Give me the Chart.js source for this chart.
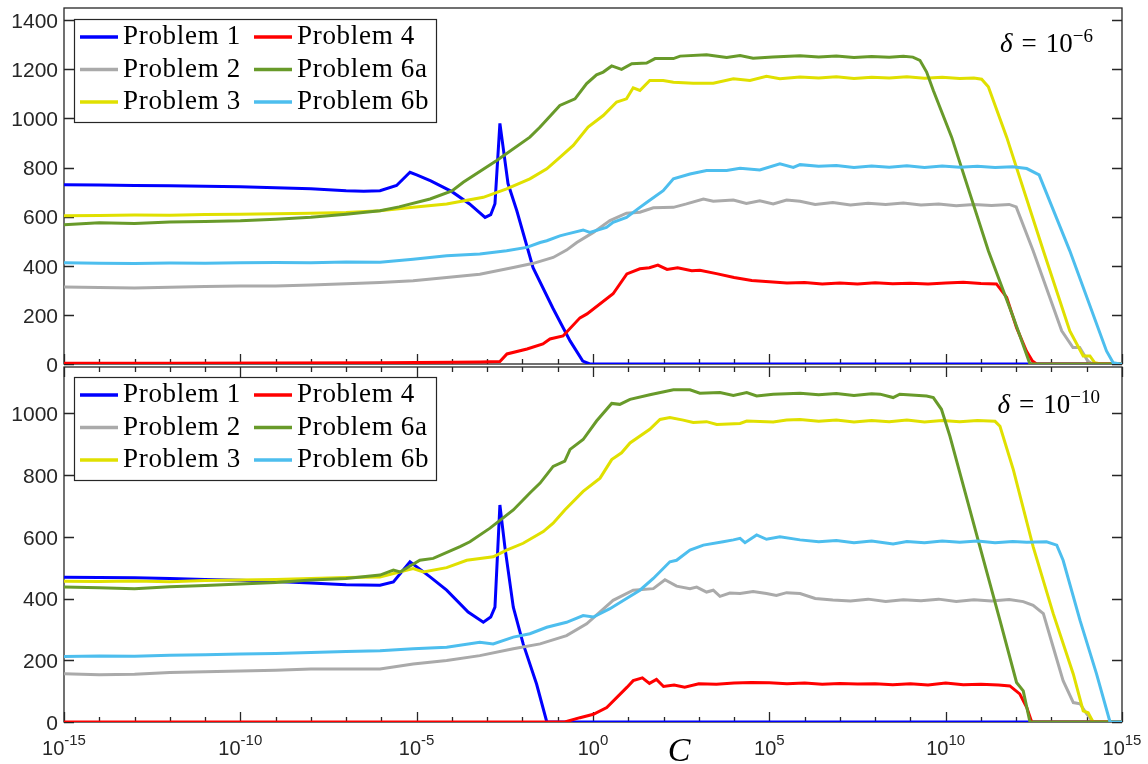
<!DOCTYPE html>
<html>
<head>
<meta charset="utf-8">
<script src="https://cdn.jsdelivr.net/npm/chart.js@4.4.1/dist/chart.umd.min.js"></script>
<style>
  body { margin: 0; background: #fff; }
  canvas { position: absolute; left: 0; top: 0; }
</style>
</head>
<body>
<canvas id="bottomChart" width="1148" height="764"></canvas>
<canvas id="topChart" width="1148" height="764"></canvas>
<script>
// series names and colours (draw order follows this list)
const seriesNames = ['Problem 1', 'Problem 2', 'Problem 3', 'Problem 4', 'Problem 6a', 'Problem 6b'];
const seriesColors = ['#0000ff', '#aaaaaa', '#e0e000', '#ff0000', '#689a2a', '#4dbeee'];

// x axis: log10(C) exponents for the labels, y tick values
const xLabelExps = [-15, -10, -5, 0, 5, 10, 15];
const topYTicks = [0, 200, 400, 600, 800, 1000, 1200, 1400];
const bottomYTicks = [0, 200, 400, 600, 800, 1000];

// delta = 1e-6 panel, points are [log10(C), value]
const topP1 = [[-15,730],[-14,729],[-13,727],[-12,726],[-11,724],[-10,722],[-9,718],[-8,714],[-7,706],[-6.5,704],[-6.04,706],[-5.57,727],[-5.19,781],[-5,770],[-4.6,746],[-4,702],[-3.5,652],[-3.06,597],[-2.9,608],[-2.78,653],[-2.64,980],[-2.41,735],[-2.16,624],[-1.7,392],[-1.14,228],[-0.65,94],[-0.29,12],[-0.09,0],[15,0]];
const topP2 = [[-15,314],[-14,312],[-13,310],[-12,313],[-11,316],[-10,318],[-9,318],[-8,322],[-7,327],[-6.04,332],[-5.1,339],[-4.15,352],[-3.21,366],[-2.26,393],[-1.69,410],[-1.13,434],[-0.75,464],[-0.46,495],[0.01,536],[0.48,584],[0.95,614],[1.33,618],[1.71,636],[2.28,638],[2.65,652],[3.13,672],[3.41,663],[3.98,668],[4.35,654],[4.73,665],[5.11,652],[5.49,668],[5.87,663],[6.3,650],[6.8,658],[7.3,648],[7.8,655],[8.3,650],[8.8,656],[9.3,648],[9.8,652],[10.3,645],[10.8,650],[11.3,646],[11.8,650],[12.0,640],[12.48,461],[13.29,135],[13.61,67],[13.8,67],[14.03,12],[14.17,0],[15,0]];
const topP3 = [[-15,604],[-14,605],[-13,607],[-12,606],[-11,609],[-10,610],[-9,612],[-8,614],[-7,617],[-6.04,624],[-5.1,638],[-4.15,652],[-3.11,679],[-2.45,713],[-1.79,754],[-1.31,795],[-0.94,842],[-0.56,890],[-0.14,965],[0.29,1012],[0.67,1067],[0.95,1080],[1.14,1125],[1.33,1114],[1.61,1155],[1.99,1155],[2.28,1148],[2.84,1144],[3.41,1144],[3.98,1162],[4.45,1155],[4.92,1172],[5.3,1162],[5.87,1169],[6.4,1165],[6.9,1170],[7.4,1163],[7.9,1168],[8.4,1165],[8.9,1170],[9.4,1164],[9.9,1168],[10.4,1163],[10.8,1165],[11.02,1160],[11.21,1129],[11.73,924],[12.77,461],[13.52,135],[13.9,33],[14.09,33],[14.23,5],[14.4,0],[15,0]];
const topP4 = [[-15,3],[-12,3],[-9,4],[-6,5],[-4,7],[-3.2,8],[-2.64,10],[-2.44,41],[-1.87,61],[-1.42,82],[-1.22,102],[-0.85,114],[-0.37,188],[-0.17,204],[0.57,286],[0.96,367],[1.33,388],[1.6,392],[1.84,403],[2.1,385],[2.4,392],[2.8,380],[3.03,382],[3.5,368],[4.0,352],[4.5,340],[5.0,335],[5.5,330],[6,332],[6.5,326],[7,330],[7.5,326],[8,331],[8.5,327],[9,329],[9.5,326],[10,330],[10.5,333],[11,328],[11.44,326],[11.73,271],[12.01,148],[12.29,53],[12.46,12],[12.58,0],[15,0]];
const topP6a = [[-15,567],[-14,575],[-13,572],[-12,578],[-11,580],[-10,583],[-9,590],[-8,598],[-7,610],[-6.04,624],[-5.5,640],[-4.62,672],[-4,705],[-3.68,740],[-2.73,829],[-1.79,924],[-1.5,965],[-0.94,1053],[-0.51,1080],[-0.18,1142],[0.1,1178],[0.29,1189],[0.53,1214],[0.81,1200],[1.1,1223],[1.52,1226],[1.76,1244],[2.28,1244],[2.47,1254],[3.22,1260],[3.79,1248],[4.17,1256],[4.54,1245],[5.1,1250],[5.87,1256],[6.4,1250],[6.9,1254],[7.4,1248],[7.9,1252],[8.4,1249],[8.8,1253],[9.07,1250],[9.27,1237],[9.46,1189],[9.65,1114],[10.17,924],[11.21,461],[11.92,189],[12.39,0],[15,0]];
const topP6b = [[-15,412],[-14,410],[-13,409],[-12,411],[-11,410],[-10,412],[-9,413],[-8,412],[-7,415],[-6.04,414],[-5.1,427],[-4.15,441],[-3.21,448],[-2.45,461],[-1.88,475],[-1.5,495],[-1.31,502],[-0.94,522],[-0.75,529],[-0.28,546],[-0.09,536],[0.38,556],[0.57,577],[0.95,597],[1.33,638],[1.52,658],[1.99,706],[2.28,754],[2.75,774],[3.22,788],[3.79,788],[4.17,797],[4.73,790],[5.3,815],[5.68,801],[5.87,812],[6.4,805],[6.9,808],[7.4,800],[7.9,806],[8.4,801],[8.9,807],[9.4,800],[9.9,806],[10.4,801],[10.9,805],[11.4,800],[11.9,803],[12.3,796],[12.65,770],[13.52,461],[14.56,53],[14.75,5],[14.95,0],[15,0]];

// delta = 1e-10 panel
const botP1 = [[-15,469],[-14,468],[-13,467],[-12,465],[-11,462],[-10,459],[-9,455],[-8,450],[-7,445],[-6.04,443],[-5.66,454],[-5.19,519],[-4.62,470],[-4.15,427],[-3.54,356],[-3.11,323],[-2.9,340],[-2.78,372],[-2.64,703],[-2.5,568],[-2.26,372],[-1.98,253],[-1.6,123],[-1.31,0],[15,0]];
const botP2 = [[-15,156],[-14,153],[-13,155],[-12,160],[-11,163],[-10,165],[-9,168],[-8,172],[-7,172],[-6.04,172],[-5.1,188],[-4.15,199],[-3.21,215],[-2.26,237],[-1.5,253],[-0.75,280],[-0.18,318],[0.57,394],[1.14,427],[1.71,432],[2.04,461],[2.37,440],[2.75,432],[2.94,437],[3.22,421],[3.41,427],[3.6,407],[3.88,418],[4.17,416],[4.54,423],[4.92,416],[5.2,410],[5.49,419],[5.87,416],[6.3,400],[6.8,395],[7.3,392],[7.8,398],[8.3,390],[8.8,396],[9.3,393],[9.8,398],[10.3,390],[10.8,396],[11.3,392],[11.8,397],[12.2,390],[12.48,378],[12.77,351],[13.05,242],[13.33,134],[13.62,63],[13.81,59],[14.0,26],[14.18,0],[15,0]];
const botP3 = [[-15,456],[-14,455],[-13,457],[-12,454],[-11,458],[-10,460],[-9,462],[-8,465],[-7,468],[-6.04,470],[-5.1,497],[-4.81,486],[-4.15,500],[-3.58,524],[-2.83,535],[-2.45,557],[-1.98,579],[-1.41,617],[-1.13,644],[-0.8,687],[-0.28,747],[0.2,790],[0.53,850],[0.81,872],[1.05,904],[1.61,948],[1.9,980],[2.18,986],[2.56,978],[2.84,970],[3.22,973],[3.51,964],[4.17,967],[4.36,975],[5.11,972],[5.49,978],[5.87,980],[6.4,974],[6.9,978],[7.4,972],[7.9,977],[8.4,973],[8.9,978],[9.4,972],[9.9,977],[10.4,973],[10.9,977],[11.4,974],[11.54,958],[11.92,817],[12.48,568],[13.05,351],[13.62,155],[13.9,36],[14.04,30],[14.18,0],[15,0]];
const botP4 = [[-15,0],[-0.8,0],[-0.37,14],[0.01,25],[0.39,47],[0.96,112],[1.14,134],[1.4,143],[1.6,125],[1.8,138],[2.0,115],[2.3,120],[2.6,113],[3.0,124],[3.5,122],[4,126],[4.5,128],[5,127],[5.5,124],[6,126],[6.5,122],[7,125],[7.5,123],[8,124],[8.5,121],[9,124],[9.5,120],[10,126],[10.5,121],[11,122],[11.5,120],[11.82,117],[12.1,91],[12.3,47],[12.44,0],[15,0]];
const botP6a = [[-15,437],[-14,435],[-13,432],[-12,438],[-11,442],[-10,447],[-9,452],[-8,460],[-7,465],[-6.04,476],[-5.66,492],[-5.47,486],[-4.91,524],[-4.53,530],[-3.77,568],[-3.49,584],[-2.92,628],[-2.26,687],[-1.79,742],[-1.5,774],[-1.13,828],[-0.8,845],[-0.65,883],[-0.28,915],[0.1,975],[0.53,1032],[0.76,1029],[1.05,1045],[1.61,1060],[2.28,1076],[2.75,1076],[3.03,1065],[3.6,1067],[3.98,1058],[4.36,1067],[4.64,1056],[5.11,1062],[5.87,1065],[6.4,1060],[6.9,1064],[7.4,1058],[7.9,1063],[8.14,1062],[8.51,1051],[8.7,1062],[9.46,1056],[9.65,1051],[9.88,1013],[10.12,926],[10.97,568],[11.54,329],[12.01,128],[12.2,101],[12.39,0],[15,0]];
const botP6b = [[-15,212],[-14,214],[-13,213],[-12,216],[-11,218],[-10,220],[-9,222],[-8,225],[-7,228],[-6.04,231],[-5.1,237],[-4.15,242],[-3.21,258],[-2.83,253],[-2.26,275],[-1.79,286],[-1.31,307],[-0.75,323],[-0.28,345],[0.01,340],[0.48,367],[0.95,400],[1.33,427],[1.71,465],[2.18,519],[2.37,524],[2.75,557],[3.13,573],[3.69,584],[3.98,590],[4.17,595],[4.31,581],[4.64,606],[4.92,592],[5.3,600],[5.87,590],[6.4,584],[6.9,588],[7.4,581],[7.9,586],[8.51,577],[8.9,585],[9.4,581],[9.9,586],[10.4,582],[10.9,586],[11.4,581],[11.9,585],[12.3,582],[12.86,584],[13.15,573],[13.33,524],[13.81,329],[14.28,155],[14.66,0],[15,0]];

const axisColor = '#262626';

function toPoints(series) {
    return series.map(p => ({ x: Math.pow(10, p[0]), y: p[1] }));
}

// draw a string like 10^-6 with the exponent raised
function drawPower(ctx, base, sup, x, y, baseFont, supFont, raise, align) {
    ctx.font = baseFont;
    const wb = ctx.measureText(base).width;
    ctx.font = supFont;
    const ws = ctx.measureText(sup).width;
    let start = x;
    if (align === 'center') start = x - (wb + ws) / 2;
    if (align === 'right') start = x - wb - ws;
    ctx.textAlign = 'left';
    ctx.font = baseFont;
    ctx.fillText(base, start, y);
    ctx.font = supFont;
    ctx.fillText(sup, start + wb, y - raise);
    return start;
}

function drawLegend(ctx, left, top) {
    const w = 362, h = 103;
    ctx.fillStyle = '#fff';
    ctx.fillRect(left, top, w, h);
    ctx.strokeStyle = axisColor;
    ctx.lineWidth = 1.2;
    ctx.strokeRect(left + 0.5, top + 0.5, w, h);
    ctx.font = '27px "Liberation Serif"';
    ctx.letterSpacing = '0.7px';
    ctx.textAlign = 'left';
    ctx.textBaseline = 'alphabetic';
    // two columns: Problems 1-3 left, 4, 6a, 6b right
    const layout = [[0, 0], [1, 0], [2, 0], [3, 1], [4, 1], [5, 1]];
    const rowY = [18, 50.5, 83];
    layout.forEach(([i, col], k) => {
        const y = top + rowY[k % 3];
        const x0 = left + (col === 0 ? 6 : 180);
        ctx.strokeStyle = seriesColors[i];
        ctx.lineWidth = 3.5;
        ctx.beginPath();
        ctx.moveTo(x0, y);
        ctx.lineTo(x0 + 38, y);
        ctx.stroke();
        ctx.fillStyle = '#000';
        ctx.fillText(seriesNames[i], x0 + 43, y + 7);
    });
    ctx.letterSpacing = '0px';
}

const framePlugin = {
    id: 'frame',
    beforeDatasetsDraw(chart, args, opts) {
        const { ctx, chartArea: a, scales: { x, y } } = chart;
        ctx.save();
        ctx.strokeStyle = axisColor;
        ctx.lineWidth = 1.3;
        ctx.beginPath();
        for (let e = -15; e <= 15; e++) {
            const px = Math.round(x.getPixelForValue(Math.pow(10, e))) + 0.5;
            const len = e % 5 === 0 ? 10 : 5;
            ctx.moveTo(px, a.bottom);
            ctx.lineTo(px, a.bottom - len);
            if (opts.topTicks) {
                ctx.moveTo(px, a.top);
                ctx.lineTo(px, a.top + len);
            }
        }
        opts.yTicks.forEach(v => {
            const py = Math.round(y.getPixelForValue(v)) + 0.5;
            ctx.moveTo(a.left, py);
            ctx.lineTo(a.left + 10, py);
            ctx.moveTo(a.right, py);
            ctx.lineTo(a.right - 10, py);
        });
        ctx.stroke();
        ctx.strokeRect(a.left, a.top, a.right - a.left, a.bottom - a.top);
        ctx.restore();
    },
    afterDraw(chart, args, opts) {
        const { ctx, scales: { x } } = chart;
        ctx.save();
        drawLegend(ctx, 74, opts.legendTop);

        // delta annotation
        ctx.fillStyle = '#000';
        ctx.textBaseline = 'alphabetic';
        const serif = '"Liberation Serif"';
        const s = drawPower(ctx, '10', '\u2212' + opts.deltaExp, opts.deltaRight, opts.deltaBase,
            '27px ' + serif, '19px ' + serif, 10, 'right');
        ctx.font = '27px ' + serif;
        ctx.textAlign = 'right';
        ctx.fillText('=', s - 9, opts.deltaBase);
        const we = ctx.measureText('=').width;
        ctx.font = 'italic 27px ' + serif;
        ctx.fillText('\u03b4', s - 9 - we - 9, opts.deltaBase);

        if (opts.xLabels) {
            ctx.fillStyle = axisColor;
            xLabelExps.forEach(e => {
                const px = x.getPixelForValue(Math.pow(10, e));
                drawPower(ctx, '10', String(e), px, 755,
                    '20px "Liberation Sans"', '15px "Liberation Sans"', 10, 'center');
            });
            ctx.fillStyle = '#000';
            ctx.font = 'italic 34px ' + serif;
            ctx.textAlign = 'center';
            ctx.fillText('C', 679, 761);
        }
        ctx.restore();
    }
};

function makeChart(canvasId, seriesList, yMax, yTicks, panel) {
    const ctx = document.getElementById(canvasId).getContext('2d');
    return new Chart(ctx, {
        type: 'line',
        data: {
            datasets: seriesList.map((s, i) => ({
                label: seriesNames[i],
                data: toPoints(s),
                borderColor: seriesColors[i],
                borderWidth: 3,
                pointRadius: 0,
                tension: 0,
                fill: false,
                order: seriesList.length - i // later series on top
            }))
        },
        options: {
            responsive: false,
            animation: false,
            events: [],
            layout: { padding: { left: 0, right: 26, top: panel.padTop, bottom: 0 } },
            scales: {
                x: {
                    type: 'logarithmic',
                    min: 1e-15,
                    max: 1e15,
                    grid: { display: false, drawTicks: false },
                    border: { display: false },
                    ticks: { display: false },
                    afterFit: s => { s.height = panel.xHeight; s.paddingLeft = 0; s.paddingRight = 0; }
                },
                y: {
                    min: 0,
                    max: yMax,
                    grid: { display: false, drawTicks: false },
                    border: { display: false },
                    afterBuildTicks: s => { s.ticks = yTicks.map(v => ({ value: v })); },
                    ticks: {
                        color: axisColor,
                        padding: 6,
                        labelOffset: 2,
                        font: { family: 'Liberation Sans', size: 21 },
                        callback: v => String(v)
                    },
                    afterFit: s => { s.width = 64; s.paddingTop = 0; s.paddingBottom = 0; }
                }
            },
            plugins: {
                legend: { display: false },
                tooltip: { enabled: false },
                frame: {
                    yTicks: yTicks,
                    topTicks: panel.topTicks,
                    legendTop: panel.legendTop,
                    deltaExp: panel.deltaExp,
                    deltaRight: panel.deltaRight,
                    deltaBase: panel.deltaBase,
                    xLabels: panel.xLabels
                }
            }
        },
        plugins: [framePlugin]
    });
}

makeChart('bottomChart', [botP1, botP2, botP3, botP4, botP6a, botP6b], 1150, bottomYTicks, {
    padTop: 367, xHeight: 42, topTicks: true, legendTop: 377,
    deltaExp: '10', deltaRight: 1100, deltaBase: 413, xLabels: true
});

makeChart('topChart', [topP1, topP2, topP3, topP4, topP6a, topP6b], 1450, topYTicks, {
    padTop: 8, xHeight: 400, topTicks: false, legendTop: 19,
    deltaExp: '6', deltaRight: 1093, deltaBase: 52, xLabels: false
});
</script>
</body>
</html>
